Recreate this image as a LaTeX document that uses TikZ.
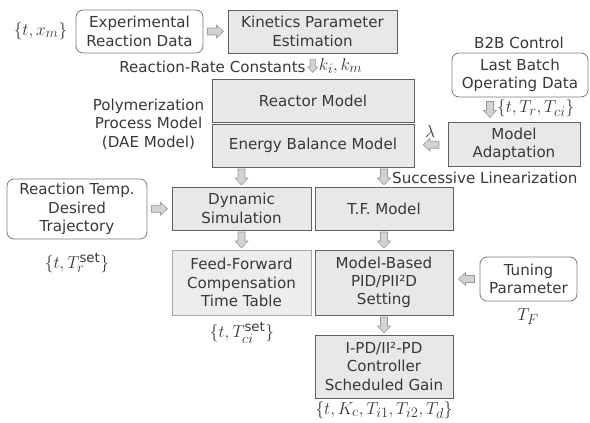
\documentclass[tikz,border=0pt]{standalone}
\usepackage{amsmath}
\usepackage{fontspec}
\setmainfont{DejaVu Sans}
\usetikzlibrary{calc}
\definecolor{txt}{HTML}{383838}
\definecolor{bdr}{HTML}{606060}
\definecolor{lbdr}{HTML}{A8A8A8}
\definecolor{boxfill}{HTML}{E8E8E8}
\definecolor{lboxfill}{HTML}{EDEDED}
\definecolor{rbdr}{HTML}{7A7A7A}
\definecolor{arrfill}{HTML}{D2D2D2}
\definecolor{arrbdr}{HTML}{9A9A9A}
\newcommand{\fs}{\fontsize{15.1}{18.3}\selectfont}
\newcommand{\fm}{\fontsize{19}{21}\selectfont}
\tikzset{
  box/.style={draw=bdr, fill=boxfill, line width=0.9pt, inner sep=0pt, align=center, font=\fs, text=txt},
  lbox/.style={draw=lbdr, fill=lboxfill, line width=0.9pt, inner sep=0pt, align=center, font=\fs, text=txt},
  rbox/.style={draw=rbdr, fill=white, line width=0.8pt, rounded corners=7pt, inner sep=0pt, align=center, font=\fs, text=txt},
  lbl/.style={inner sep=0pt, align=center, font=\fs, text=txt},
  mth/.style={inner sep=0pt, font=\fm, text=txt},
  pics/barrow/.style={code={
    \draw[draw=arrbdr, fill=arrfill, line width=0.6pt]
      (-8,-3.5)--(1,-3.5)--(1,-6.5)--(8,0)--(1,6.5)--(1,3.5)--(-8,3.5)--cycle;}},
}
\begin{document}
\begin{tikzpicture}[x=1pt,y=-1pt]
\useasboundingbox (0,0) rectangle (590,423);

% top row
\node[mth] (xm) at (40.5,31) {$\{t, x_m\}$};
\node[rbox, minimum width=127pt, minimum height=43pt] (exp) at (139.5,31.5) {Experimental\\Reaction Data};
\node[box, minimum width=169pt, minimum height=43pt] (kin) at (312.5,31.5) {Kinetics Parameter\\Estimation};
\pic at ($(exp.east)!0.5!(kin.west)$) {barrow};

% reactor / energy
\node[box, minimum width=202pt, minimum height=43pt] (reac) at (313,100.5) {Reactor Model};
\node[box, minimum width=202pt, minimum height=43pt] (ener) at (313,145.5) {Energy Balance Model};
\coordinate (rrcarr) at ($(kin.south)!0.5!(reac.north)$);
\pic[rotate=-90, scale=0.8] at (rrcarr) {barrow};
\node[lbl, anchor=east] (rrc) at ($(rrcarr)+(-7,1)$) {Reaction-Rate Constants};
\node[mth, anchor=west] (kikm) at ($(rrcarr)+(6,0)$) {$k_i, k_m$};
\node[lbl] (poly) at (148.5,124) {Polymerization\\Process Model\\(DAE Model)};

% B2B
\node[lbl] (b2b) at (519,43) {B2B Control};
\node[rbox, minimum width=136pt, minimum height=44pt] (last) at (520,75) {Last Batch\\Operating Data};
\node[box, minimum width=132pt, minimum height=44pt] (adapt) at (514,144) {Model\\Adaptation};
\coordinate (lastarr) at ($($(last.south)!0.5!(adapt.north)$)+(-27,0)$);
\pic[rotate=-90] at (lastarr) {barrow};
\node[mth, anchor=west] (trtci) at ($(lastarr)+(7,-1)$) {$\{t, T_r, T_{ci}\}$};
\pic[rotate=180] at ($(ener.east)!0.5!(adapt.west)$) {barrow};
\node[mth] (lam) at (430,131) {$\lambda$};

% middle row
\node[rbox, minimum width=140pt, minimum height=60pt] (traj) at (77,209) {Reaction Temp.\\Desired\\Trajectory};
\node[box, minimum width=139pt, minimum height=43pt] (dyn) at (241.5,208.5) {Dynamic\\Simulation};
\node[box, minimum width=138pt, minimum height=43pt] (tf) at (384,208.5) {T.F. Model};
\pic at ($(traj.east)!0.5!(dyn.west)$) {barrow};
\pic[rotate=-90] at ($(dyn.north)!0.5!(dyn.north |- ener.south)$) {barrow};
\coordinate (slarr) at ($(tf.north)!0.5!(tf.north |- ener.south)$);
\pic[rotate=-90] at (slarr) {barrow};
\node[lbl, anchor=west] (sl) at ($(slarr)+(8,1)$) {Successive Linearization};
\node[mth] (trset) at (77,263) {$\{t, T_r^{\text{set}}\}$};

% lower row
\node[lbox, minimum width=139pt, minimum height=65pt] (ff) at (241.5,282.5) {Feed-Forward\\Compensation\\Time Table};
\node[box, minimum width=138pt, minimum height=65pt] (mb) at (384,282.5) {Model-Based\\PID/PII²D\\Setting};
\pic[rotate=-90] at ($(dyn.south)!0.5!(ff.north)$) {barrow};
\pic[rotate=-90] at ($(tf.south)!0.5!(mb.north)$) {barrow};
\node[rbox, minimum width=97pt, minimum height=44pt] (tune) at (528.5,279) {Tuning\\Parameter};
\pic[rotate=180] at ($(mb.east |- tune.west)!0.5!(tune.west)$) {barrow};
\node[mth] (tf2) at (528,317) {$T_F$};
\node[mth] (tciset) at (242,333) {$\{t, T_{ci}^{\text{set}}\}$};

% bottom
\node[box, minimum width=138pt, minimum height=63pt] (ipd) at (384,366.5) {I-PD/II²-PD\\Controller\\Scheduled Gain};
\pic[rotate=-90] at ($(mb.south)!0.5!(ipd.north)$) {barrow};
\node[mth] (gains) at (384,410) {$\{t, K_c, T_{i1}, T_{i2}, T_d\}$};
\end{tikzpicture}
\end{document}
